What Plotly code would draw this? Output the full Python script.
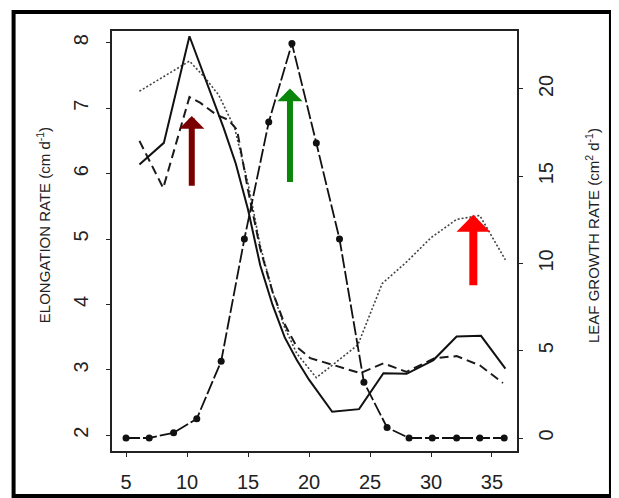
import plotly.graph_objects as go

# ---- data ----
leaf_x = [5, 6.9, 8.9, 10.8, 12.8, 14.7, 16.7, 18.6, 20.6, 22.5, 24.5, 26.4, 28.2, 30.1, 32.1, 34.0, 36.0]
leaf_y = [0, 0, 0.3, 1.1, 4.4, 11.4, 18.1, 22.6, 16.9, 11.4, 3.2, 0.6, 0, 0, 0, 0, 0]

solid_x = [6.1, 8.1, 10.2, 12.0, 13.0, 14.0, 15.0, 16.0, 17.0, 18.0, 19.0, 20.0, 21.9, 24.1, 26.1, 28.0, 30.2, 32.1, 34.1, 36.1]
solid_y = [6.14, 6.47, 8.10, 7.20, 6.70, 6.15, 5.45, 4.60, 4.00, 3.50, 3.15, 2.85, 2.36, 2.40, 2.95, 2.94, 3.15, 3.51, 3.52, 3.02]

dashed_x = [6.1, 8.05, 10.2, 11.1, 12.4, 13.4, 14.1, 15.0, 16.0, 17.0, 18.0, 19.0, 20.1, 22.0, 24.2, 26.1, 28.0, 30.3, 32.1, 34.0, 35.9]
dashed_y = [6.50, 5.78, 7.17, 7.08, 6.90, 6.82, 6.67, 5.75, 4.85, 4.20, 3.70, 3.35, 3.18, 3.07, 2.95, 3.10, 2.97, 3.18, 3.21, 3.07, 2.80]

dotted_x = [6.1, 10.2, 11.5, 12.6, 13.9, 15.0, 16.0, 17.0, 18.0, 19.0, 20.6, 24.0, 26.0, 28.0, 30.0, 32.1, 34.0, 36.1]
dotted_y = [7.26, 7.72, 7.46, 7.20, 6.70, 5.85, 4.90, 4.20, 3.65, 3.25, 2.88, 3.38, 4.32, 4.65, 5.02, 5.30, 5.36, 4.68]

x_ticks = [5, 10, 15, 20, 25, 30, 35]
y_ticks = [2, 3, 4, 5, 6, 7, 8]
y2_ticks = [0, 5, 10, 15, 20]

# arrows: (x, tip y, tail y, colour) in left-axis data units
arrows = [
    (10.39, 6.88, 5.79, "#7a0000"),
    (18.44, 7.30, 5.85, "#0a860a"),
    (33.47, 5.37, 4.27, "#ff0000"),
]

FONT = "Liberation Sans, Arial, Helvetica, sans-serif"

fig = go.Figure()
fig.add_trace(go.Scatter(x=dotted_x, y=dotted_y, mode="lines",
                         line=dict(color="#444444", width=1.6, dash="2px,2px"),
                         showlegend=False))
fig.add_trace(go.Scatter(x=dashed_x, y=dashed_y, mode="lines",
                         line=dict(color="#1a1a1a", width=2, dash="9px,5px"),
                         showlegend=False))
fig.add_trace(go.Scatter(x=solid_x, y=solid_y, mode="lines",
                         line=dict(color="#111111", width=2),
                         showlegend=False))
fig.add_trace(go.Scatter(x=leaf_x, y=leaf_y, mode="lines+markers", yaxis="y2",
                         line=dict(color="#111111", width=1.8, dash="14px,3px"),
                         marker=dict(color="#111111", size=7),
                         showlegend=False))

annotations = []
for ax_, tip, tail, col in arrows:
    w = 8 if col == "#ff0000" else 6
    annotations.append(dict(
        x=ax_, y=tip, ax=ax_, ay=tail, xref="x", yref="y", axref="x", ayref="y",
        text="", showarrow=True, arrowhead=1, arrowsize=0.7, arrowwidth=w,
        arrowcolor=col, standoff=0))

annotations.append(dict(
    text="ELONGATION RATE (cm d<sup>-1</sup>)", textangle=-90,
    xref="paper", yref="paper", x=-0.170, y=0.538, xanchor="center", yanchor="middle",
    showarrow=False, font=dict(family=FONT, size=15, color="#222222")))
annotations.append(dict(
    text="LEAF GROWTH RATE (cm<sup>2</sup> d<sup>-1</sup>)", textangle=-90,
    xref="paper", yref="paper", x=1.185, y=0.514, xanchor="center", yanchor="middle",
    showarrow=False, font=dict(family=FONT, size=15, color="#222222")))

axis_common = dict(showgrid=False, zeroline=False, showline=True, automargin=False,
                   linecolor="#222222", linewidth=1.5, ticks="outside",
                   ticklen=4, tickcolor="#222222", tickwidth=1.2,
                   tickfont=dict(family=FONT, size=20, color="#222222"))

# the page adds an 8px body margin, so the figure is 8px smaller on each side
fig.update_layout(
    width=611, height=490,
    margin=dict(l=104, r=102, t=23, b=47, autoexpand=False),
    paper_bgcolor="white", plot_bgcolor="white",
    xaxis=dict(range=[3.85, 37.05], tickvals=x_ticks, mirror=True,
               ticklabelstandoff=8, **axis_common),
    yaxis=dict(range=[1.76, 8.18], tickvals=y_ticks, tickangle=-90,
               ticklabelstandoff=10, **axis_common),
    yaxis2=dict(range=[-0.745, 23.32], tickvals=y2_ticks, tickangle=-90,
                overlaying="y", side="right", ticklabelstandoff=6, **axis_common),
    annotations=annotations,
    shapes=[dict(type="rect", xref="paper", yref="paper",
                 x0=-0.243, x1=1.232, y0=-0.107, y1=1.045,
                 line=dict(color="black", width=4), fillcolor="rgba(0,0,0,0)")],
)

fig.write_html("out.html")
